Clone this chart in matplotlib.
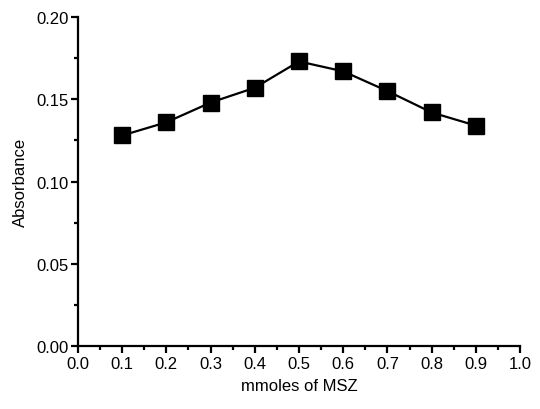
import matplotlib
matplotlib.use("Agg")
import matplotlib.pyplot as plt
from matplotlib.ticker import MultipleLocator

plt.rcParams['font.family'] = ['Liberation Sans', 'DejaVu Sans']

# mmoles of MSZ vs absorbance
mmoles = [0.1, 0.2, 0.3, 0.4, 0.5, 0.6, 0.7, 0.8, 0.9]
absorbance = [0.128, 0.136, 0.148, 0.157, 0.173, 0.167, 0.155, 0.142, 0.134]

fig = plt.figure(figsize=(5.4, 4.1), dpi=100)
ax = fig.add_axes([0.1444, 0.1537, 0.8186, 0.8023])

ax.plot(mmoles, absorbance, color='black', linewidth=1.6,
        marker='s', markersize=11, markerfacecolor='black', markeredgecolor='black')

ax.set_xlim(0.0, 1.0)
ax.set_ylim(0.0, 0.20)
ax.xaxis.set_major_locator(MultipleLocator(0.1))
ax.xaxis.set_minor_locator(MultipleLocator(0.05))
ax.yaxis.set_major_locator(MultipleLocator(0.05))
ax.yaxis.set_minor_locator(MultipleLocator(0.025))
ax.xaxis.set_major_formatter(plt.FormatStrFormatter('%.1f'))
ax.yaxis.set_major_formatter(plt.FormatStrFormatter('%.2f'))

for s in ['top', 'right']:
    ax.spines[s].set_visible(False)
for s in ['left', 'bottom']:
    ax.spines[s].set_linewidth(1.6)

ax.tick_params(which='major', direction='out', length=5, width=1.6, labelsize=12, pad=2)
ax.tick_params(which='minor', direction='out', length=3, width=1.6)

ax.set_xlabel('mmoles of MSZ', fontsize=12, labelpad=5)
ax.set_ylabel('Absorbance', fontsize=12, labelpad=6)

fig.savefig('out.png', dpi=100)
